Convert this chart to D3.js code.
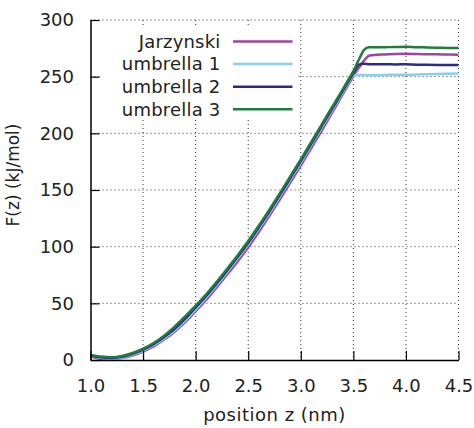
<!DOCTYPE html>
<html>
<head>
<meta charset="utf-8">
<script src="https://cdn.jsdelivr.net/npm/d3@7"></script>
<style>
  body { margin: 0; background: #fff; }
  svg { font-family: "DejaVu Sans", sans-serif; }
  .tick text { font-size: 18px; fill: #222; }
  .axisLabel { font-size: 18px; fill: #222; }
  .keyLabel { font-size: 18px; fill: #222; letter-spacing: 0.2px; }
</style>
</head>
<body>
<svg id="chart"></svg>
<script>
// position z (nm)
const zValues = [1.0, 1.1, 1.2, 1.3, 1.4, 1.5, 1.6, 1.7, 1.8, 1.9, 2.0,
    2.1, 2.2, 2.3, 2.4, 2.5, 2.6, 2.7, 2.8, 2.9, 3.0, 3.1, 3.2, 3.3, 3.4,
    3.45, 3.5, 3.55, 3.6, 3.65, 3.7, 3.8, 3.9, 4.0, 4.1, 4.2, 4.3, 4.4, 4.5];

// F(z) in kJ/mol
const jarzynski = [3.5, 1.0, 0.8, 1.8, 4.0, 7.5, 12, 18, 25, 33.5, 43,
    53, 64, 75.5, 87, 99.5, 113, 127, 141.5, 156.5, 171.5, 187, 202.5, 218.5, 234.5,
    242.5, 250.5, 257.5, 264, 268.5, 269.2, 269.6, 270.0, 270.2, 270.0, 269.8, 269.7, 269.5, 269.4];
const umbrella1 = [3.8, 2.0, 1.2, 2.0, 4.5, 8.2, 13, 19, 26, 34.8, 44.5,
    55, 66, 77.5, 89.5, 102, 115.5, 129.5, 144, 159, 174, 189.5, 205, 220.5, 236,
    244, 251, 251.5, 251.4, 251.3, 251.2, 251.5, 251.8, 251.6, 251.9, 252.2, 252.4, 252.6, 252.8];
const umbrella2 = [4.0, 2.4, 1.8, 2.8, 5.5, 9.2, 14, 20.3, 27.5, 36.5, 46.5,
    56.5, 67.5, 79, 91, 103.5, 117, 131, 145.5, 160.5, 175.5, 191, 206.5, 222, 237.5,
    245.5, 253, 260.5, 261.4, 261.0, 260.9, 261.0, 260.8, 260.9, 260.6, 260.5, 260.4, 260.3, 260.2];
const umbrella3 = [4.5, 3.0, 2.4, 3.5, 6.2, 10, 15, 21.5, 29.5, 38.5, 48,
    58, 69, 80.5, 92.5, 105, 118.5, 132.5, 147, 162, 177, 192.5, 208, 223.5, 239,
    247, 255, 264.5, 273.5, 276, 275.9, 276.0, 276.2, 276.4, 276.0, 275.8, 275.6, 275.4, 275.3];

const seriesNames = ['Jarzynski', 'umbrella 1', 'umbrella 2', 'umbrella 3'];
const seriesValues = [jarzynski, umbrella1, umbrella2, umbrella3];
const seriesColors = ['#a2439f', '#88cff0', '#2e2a8c', '#1f7d3c'];

const xTicks = [1.0, 1.5, 2.0, 2.5, 3.0, 3.5, 4.0, 4.5];
const yTicks = [0, 50, 100, 150, 200, 250, 300];

const width = 474, height = 428;
const margin = { top: 20, right: 15.5, bottom: 68, left: 90.5 };
const plotW = width - margin.left - margin.right;
const plotH = height - margin.top - margin.bottom;

const svg = d3.select('#chart').attr('width', width).attr('height', height);

const x = d3.scaleLinear().domain([1.0, 4.5]).range([0, plotW]);
const y = d3.scaleLinear().domain([0, 300]).range([plotH, 0]);

const plot = svg.append('g')
    .attr('transform', 'translate(' + margin.left + ',' + margin.top + ')');

// dotted grid
plot.append('g').selectAll('line')
    .data(xTicks.slice(1))
    .join('line')
    .attr('x1', d => x(d)).attr('x2', d => x(d))
    .attr('y1', 0).attr('y2', plotH)
    .attr('stroke', '#333').attr('stroke-width', 1)
    .attr('stroke-dasharray', '1,3');
plot.append('g').selectAll('line')
    .data(yTicks.slice(1))
    .join('line')
    .attr('y1', d => y(d)).attr('y2', d => y(d))
    .attr('x1', 0).attr('x2', plotW)
    .attr('stroke', '#333').attr('stroke-width', 1)
    .attr('stroke-dasharray', '1,3');

// opaque key background
plot.append('rect')
    .attr('x', 10).attr('y', 8)
    .attr('width', 197).attr('height', 91)
    .attr('fill', '#fff');

// curves
const line = d3.line()
    .x((d, i) => x(zValues[i]))
    .y(d => y(d))
    .curve(d3.curveMonotoneX);

seriesValues.forEach((vals, k) => {
    plot.append('path')
        .datum(vals)
        .attr('fill', 'none')
        .attr('stroke', seriesColors[k])
        .attr('stroke-width', 2.5)
        .attr('stroke-linejoin', 'round')
        .attr('d', line);
});

// axes
const xAxis = plot.append('g')
    .attr('transform', 'translate(0,' + plotH + ')')
    .call(d3.axisBottom(x).tickValues(xTicks).tickFormat(d3.format('.1f'))
        .tickSizeInner(-9).tickSizeOuter(0).tickPadding(19));
const yAxis = plot.append('g')
    .call(d3.axisLeft(y).tickValues(yTicks)
        .tickSizeInner(-9).tickSizeOuter(0).tickPadding(16.5));
[xAxis, yAxis].forEach(a => {
    a.select('.domain').attr('stroke', '#000').attr('stroke-width', 1.5);
    a.selectAll('.tick line').attr('stroke', '#000').attr('stroke-width', 1.2);
    a.attr('font-family', null).attr('font-size', null);
});

// axis titles
plot.append('text')
    .attr('class', 'axisLabel')
    .attr('x', plotW / 2)
    .attr('y', plotH + 61)
    .style('text-anchor', 'middle')
    .style('letter-spacing', '0.5px')
    .text('position z (nm)');
svg.append('text')
    .attr('class', 'axisLabel')
    .attr('transform', 'translate(19,175) rotate(-90)')
    .style('text-anchor', 'middle')
    .style('font-size', '17px')
    .text('F(z) (kJ/mol)');

// key
const key = plot.append('g');
seriesNames.forEach((name, k) => {
    const ky = 21.5 + k * 22.6;
    key.append('text')
        .attr('class', 'keyLabel')
        .attr('x', 130).attr('y', ky)
        .attr('dy', '0.35em')
        .style('text-anchor', 'end')
        .text(name);
    key.append('line')
        .attr('x1', 142.5).attr('x2', 202)
        .attr('y1', ky).attr('y2', ky)
        .attr('stroke', seriesColors[k])
        .attr('stroke-width', 2.5);
});
</script>
</body>
</html>
